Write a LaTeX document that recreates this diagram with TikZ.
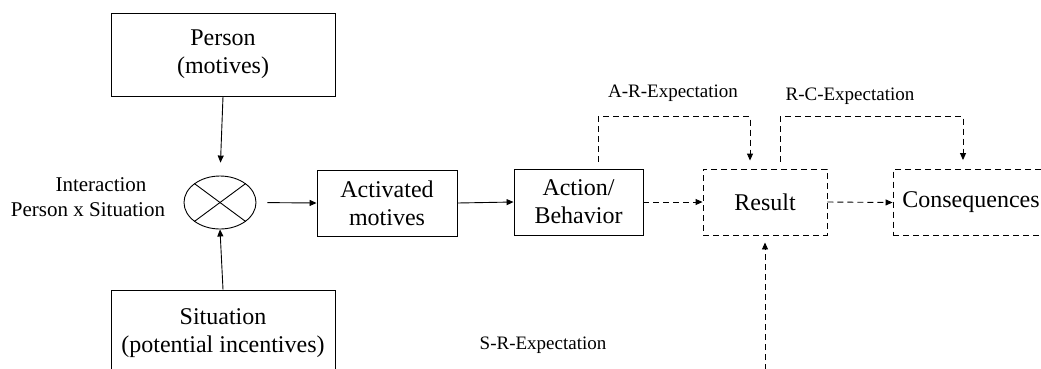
\documentclass[tikz,border=0pt]{standalone}
\usepackage{fontspec}
\setmainfont{Liberation Serif}
\usetikzlibrary{arrows.meta,shapes.geometric}
\tikzset{
  base/.style={line width=0.9pt},
  boxstyle/.style={base,draw,rectangle,inner sep=0pt,align=center,
    font=\fontsize{24}{28}\selectfont},
  dbox/.style={boxstyle,dash pattern=on 6pt off 4pt},
  arr/.style={base,-{Triangle[length=7pt,width=6pt]}},
  darr/.style={arr,dash pattern=on 6pt off 4pt},
  lbl/.style={inner sep=0pt,font=\fontsize{19}{22}\selectfont},
}
\begin{document}
\begin{tikzpicture}[x=1pt,y=-1pt]
\useasboundingbox (0,0) rectangle (1041,368);
\clip (0,0) rectangle (1041,368);
\fill[white] (0,0) rectangle (1041,368);

\node[boxstyle,minimum width=224pt,minimum height=83pt] (per) at (223,54.5) {Person\\(motives)};
\node[boxstyle,minimum width=224pt,minimum height=86pt] (sit) at (223,333) {Situation\\(potential incentives)};
\node[base,draw,ellipse,minimum width=72pt,minimum height=53pt,inner sep=0pt] (x) at (220,202.5) {};
\draw[base] (x.north west) -- (x.south east);
\draw[base] (x.north east) -- (x.south west);
\node[inner sep=0pt,align=center,font=\fontsize{21}{25}\selectfont] (inter) at (88,197) {\hspace*{26pt}Interaction\\Person x Situation};

\node[boxstyle,minimum width=140pt,minimum height=66pt] (actv) at (387,203) {Activated\\motives};
\node[boxstyle,minimum width=129pt,minimum height=66pt] (act) at (578.5,202) {Action/\\Behavior};
\node[dbox,minimum width=124pt,minimum height=66pt] (res) at (765,202) {Result};
\node[dbox,minimum width=156pt,minimum height=66pt] (con) at (971,202.5) {Consequences};

\node[lbl] (arl) at (673,93) {A-R-Expectation};
\node[lbl] (rcl) at (850,96) {R-C-Expectation};
\node[lbl] (srl) at (543,345) {S-R-Expectation};

\coordinate (srS) at (765,380);

\draw[arr,shorten >=13pt] (per.south) -- (x.north);
\draw[arr] (sit.north) -- (x.south);
\draw[arr,shorten <=11pt] (x.east) -- (actv.west);
\draw[arr] (actv.east) -- (act.west);
\draw[darr] (act.east) -- (res.west);
\draw[darr] (res.east) -- (con.west);
\draw[darr,shorten <=7pt,shorten >=8pt] ([xshift=19.5pt]act.north) -- ++(0,-52) -| ([xshift=-15pt]res.north);
\draw[darr,shorten <=7pt,shorten >=9pt] ([xshift=15pt]res.north) -- ++(0,-52) -| ([xshift=-8pt]con.north);
\draw[darr,shorten >=7pt] (srS) -- (res.south);
\end{tikzpicture}
\end{document}
